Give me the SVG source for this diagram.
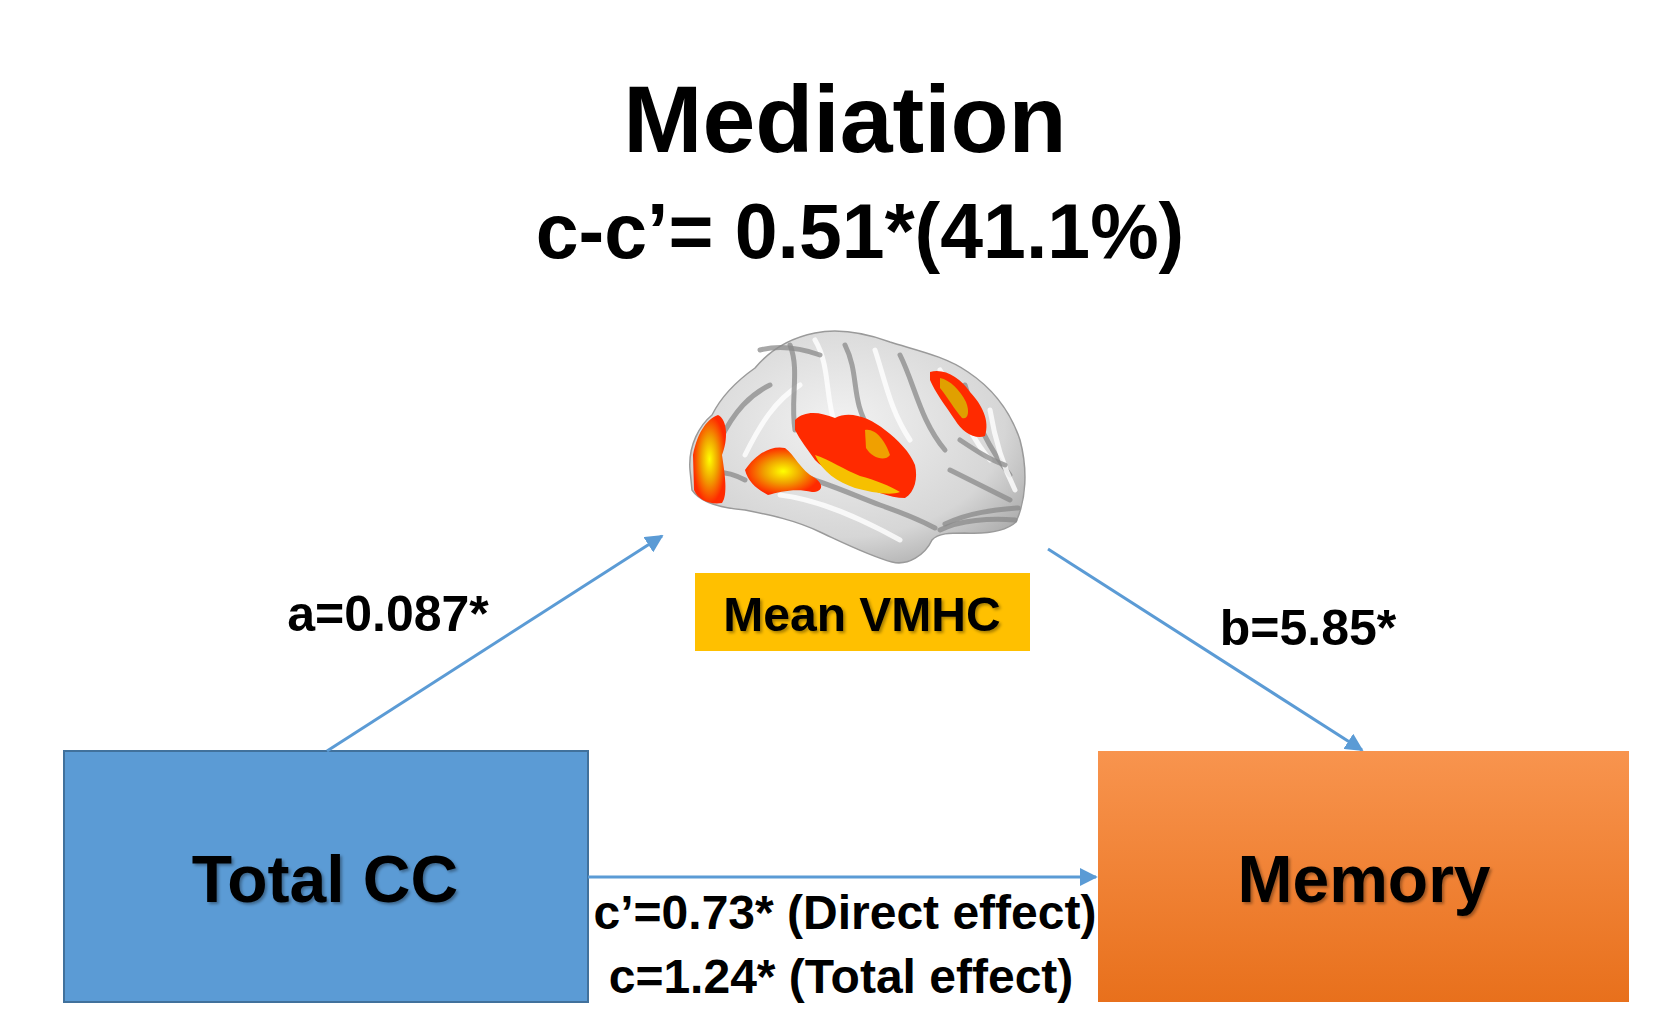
<svg xmlns="http://www.w3.org/2000/svg" width="1664" height="1030" viewBox="0 0 1664 1030">
<defs>
<style>
.t{font-family:"Liberation Sans",Arial,sans-serif;font-weight:bold;fill:#000;text-anchor:middle}
.conn{stroke:#5B9BD5;stroke-width:3;fill:none}
.gy{fill:none;stroke:#8a8a8a;stroke-width:5;stroke-linecap:round;opacity:0.75}
.gl{fill:none;stroke:#ffffff;stroke-width:5;stroke-linecap:round;opacity:0.8}
</style>
<marker id="arr" viewBox="0 0 10 10" refX="9" refY="5" markerWidth="6" markerHeight="6" orient="auto" markerUnits="strokeWidth">
<path d="M0,0 L10,5 L0,10 z" fill="#5B9BD5"/>
</marker>
<linearGradient id="org" x1="0" y1="0" x2="0" y2="1">
<stop offset="0" stop-color="#F8944E"/>
<stop offset="1" stop-color="#E8701C"/>
</linearGradient>
<radialGradient id="brainG" cx="0.45" cy="0.4" r="0.7">
<stop offset="0" stop-color="#f2f2f2"/>
<stop offset="0.7" stop-color="#d6d6d6"/>
<stop offset="1" stop-color="#a8a8a8"/>
</radialGradient>
<radialGradient id="hot" cx="0.5" cy="0.5" r="0.5">
<stop offset="0" stop-color="#ffff00"/>
<stop offset="0.5" stop-color="#f0a000"/>
<stop offset="1" stop-color="#ff2a00"/>
</radialGradient>
<filter id="sh" x="-5%" y="-5%" width="110%" height="120%">
<feDropShadow dx="2" dy="2" stdDeviation="1.5" flood-color="#000" flood-opacity="0.35"/>
</filter>
</defs>
<rect width="1664" height="1030" fill="#fff"/>

<g id="title">
<text class="t" x="845" y="152" font-size="95">Mediation</text>
<text class="t" x="860" y="258" font-size="77">c-c’= 0.51*(41.1%)</text>
</g>

<g id="brain">
<path d="M690,470 C688,445 700,425 712,415 C722,395 738,380 755,368 C770,350 790,338 815,333 C840,328 865,333 890,342 C915,350 945,356 968,372 C992,388 1010,410 1020,440 C1028,470 1026,500 1016,522 C1005,532 985,534 965,533 C950,533 938,533 932,540 C925,555 908,566 892,562 C870,556 848,545 820,532 C795,520 770,515 745,510 C720,508 700,502 692,490 Z" fill="url(#brainG)" stroke="#9a9a9a" stroke-width="1.5"/>
<path d="M940,530 C960,520 990,518 1015,520" class="gy"/>
<path d="M945,524 C970,512 995,510 1018,508" class="gy" opacity="0.5"/>
<path d="M760,470 C800,470 840,490 880,505 C900,512 920,520 935,528" class="gy"/>
<path d="M780,495 C820,500 860,518 900,540" class="gl"/>
<path d="M720,440 C735,410 750,395 770,385" class="gy"/>
<path d="M745,455 C760,425 775,400 800,385" class="gl"/>
<path d="M790,345 C800,370 790,400 795,430" class="gy"/>
<path d="M815,340 C830,365 825,395 835,425" class="gl"/>
<path d="M845,345 C860,375 850,400 870,430" class="gy"/>
<path d="M875,350 C885,380 890,410 910,440" class="gl"/>
<path d="M900,355 C915,385 920,420 945,450" class="gy"/>
<path d="M940,370 C955,395 965,430 990,460" class="gl"/>
<path d="M965,385 C975,420 990,450 1010,475" class="gy"/>
<path d="M990,410 C995,440 1005,470 1015,490" class="gl"/>
<path d="M950,470 C970,480 990,490 1010,500" class="gy"/>
<path d="M960,440 C975,450 990,460 1005,465" class="gy" opacity="0.5"/>
<path d="M760,350 C780,345 800,348 820,355" class="gy" opacity="0.5"/>
<path d="M700,475 C715,470 730,472 745,480" class="gy" opacity="0.5"/>
<path d="M693,455 C697,435 705,420 718,415 C728,420 728,440 722,455 C725,475 728,495 722,503 C710,505 698,500 694,490 Z" fill="url(#hot)"/>
<path d="M745,470 C755,455 770,445 785,448 C795,455 800,470 815,478 C825,485 822,492 812,492 C795,488 780,492 768,495 C758,490 748,482 745,470 Z" fill="url(#hot)"/>
<path d="M795,420 C805,410 820,412 835,418 C850,410 870,418 885,430 C898,440 910,452 915,465 C918,478 915,492 905,498 C890,498 870,490 855,482 C840,478 825,470 815,460 C808,450 800,440 795,430 Z" fill="#ff2a00"/>
<path d="M815,455 C830,460 845,470 860,476 C875,480 890,486 900,492 C890,496 870,492 855,488 C838,482 822,472 815,455 Z" fill="#f6c000"/>
<path d="M865,430 C875,428 885,440 890,455 C885,462 872,458 866,448 Z" fill="#f0a000"/>
<path d="M930,372 C945,368 960,378 970,392 C982,405 990,420 985,436 C975,440 962,432 955,420 C945,405 935,392 930,380 Z" fill="#ff2a00"/>
<path d="M940,378 C950,380 960,390 966,402 C970,412 968,420 962,418 C955,410 948,398 940,388 Z" fill="#e0a000"/>
</g>

<g id="node-vmhc">
<rect x="695" y="573" width="335" height="78" fill="#FFC000"/>
<text class="t" x="862" y="631" font-size="48" filter="url(#sh)">Mean VMHC</text>
</g>

<g id="node-totalcc">
<rect x="64" y="751" width="524" height="251" fill="#5B9BD5" stroke="#41719C" stroke-width="2"/>
<text class="t" x="325" y="902" font-size="66" filter="url(#sh)">Total CC</text>
</g>

<g id="node-memory">
<rect x="1098" y="751" width="531" height="251" fill="url(#org)"/>
<text class="t" x="1364" y="902" font-size="66" filter="url(#sh)">Memory</text>
</g>

<g id="connectors">
<line class="conn" x1="327" y1="751" x2="662" y2="536" marker-end="url(#arr)"/>
<line class="conn" x1="1048" y1="549" x2="1362" y2="750" marker-end="url(#arr)"/>
<line class="conn" x1="588" y1="877" x2="1096" y2="877" marker-end="url(#arr)"/>
</g>

<g id="labels">
<text class="t" x="388" y="631" font-size="50">a=0.087*</text>
<text class="t" x="1308" y="645" font-size="50">b=5.85*</text>
<text class="t" x="845" y="929" font-size="48">c’=0.73* (Direct effect)</text>
<text class="t" x="841" y="993" font-size="48">c=1.24* (Total effect)</text>
</g>
</svg>
